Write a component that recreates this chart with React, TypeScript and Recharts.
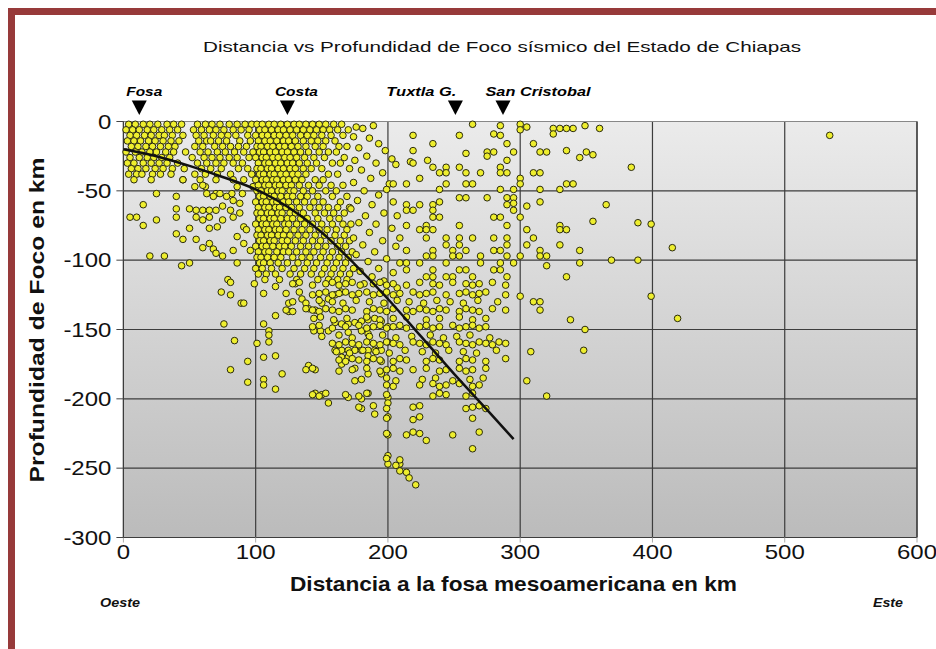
import React from 'react';
import {
  ScatterChart, Scatter, XAxis, YAxis, CartesianGrid, ReferenceDot, ReferenceLine,
} from 'recharts';

// ---------- DATA ----------
const xTicks = [0, 100, 200, 300, 400, 500, 600];
const yTicks = [0, -50, -100, -150, -200, -250, -300];

const markers = [
  { name: 'Fosa', km: 12 },
  { name: 'Costa', km: 124 },
  { name: 'Tuxtla G.', km: 251 },
  { name: 'San Cristobal', km: 287 },
];

// dense shallow cluster between the trench and the coast: [depth km, distances km]
const trenchRows: [number, number[]][] = [
  [-2, [4, 9, 15, 20, 26, 33, 38, 44, 56, 62, 67, 73, 80, 86, 92, 97]],
  [-6, [2, 7, 12, 18, 23, 29, 35, 41, 53, 59, 65, 70, 76, 83, 89, 95]],
  [-10, [5, 10, 16, 21, 27, 31, 37, 45, 55, 61, 68, 74, 79, 85, 94]],
  [-14, [3, 8, 13, 19, 24, 30, 36, 42, 57, 63, 66, 72, 78, 88, 96]],
  [-18, [6, 11, 17, 22, 28, 34, 39, 54, 60, 69, 75, 81, 87, 93]],
  [-22, [2, 9, 14, 20, 25, 32, 38, 47, 58, 64, 71, 77, 84, 91, 98]],
  [-26, [5, 12, 18, 23, 29, 35, 52, 61, 67, 73, 80, 86, 95]],
  [-30, [3, 8, 15, 21, 27, 33, 41, 56, 63, 70, 76, 83, 90]],
  [-34, [6, 11, 17, 24, 30, 37, 46, 59, 66, 74, 87, 94]],
  [-38, [4, 10, 14, 22, 28, 36, 54, 62, 71, 81, 97]],
  [-42, [8, 21, 45, 58, 70, 83, 91]],
  [-47, [54, 62, 86, 98]],
  [-52, [70, 82, 90]],
];

// dense band below the coast: [depth km, distances km]
const coastRows: [number, number[]][] = [
  [-2, [101, 105, 110, 114, 119, 124, 129, 133, 138, 143, 148, 153, 159, 165]],
  [-6, [103, 107, 112, 117, 121, 126, 131, 136, 141, 146, 151, 156, 162, 170]],
  [-10, [100, 105, 109, 114, 118, 123, 128, 134, 139, 144, 150, 157, 166]],
  [-14, [102, 107, 111, 116, 121, 125, 130, 136, 142, 147, 153, 160]],
  [-18, [101, 104, 109, 113, 118, 122, 127, 132, 138, 145, 151, 163, 169]],
  [-22, [103, 106, 111, 115, 120, 124, 129, 134, 140, 148, 155, 161]],
  [-26, [100, 105, 108, 113, 117, 122, 126, 131, 137, 144, 152, 167]],
  [-30, [102, 107, 110, 115, 119, 124, 128, 133, 139, 146, 158, 164]],
  [-34, [101, 104, 109, 112, 117, 121, 126, 130, 136, 142, 150, 171]],
  [-38, [103, 106, 111, 114, 119, 123, 128, 132, 138, 155, 162]],
  [-42, [100, 105, 108, 113, 116, 121, 125, 130, 135, 145, 151]],
  [-46, [102, 107, 110, 115, 118, 123, 127, 133, 140, 148, 157, 166]],
  [-50, [101, 104, 109, 112, 117, 120, 126, 129, 136, 143, 153, 161]],
  [-54, [103, 106, 111, 114, 119, 124, 128, 134, 139, 147, 158, 169]],
  [-58, [100, 105, 108, 113, 116, 121, 125, 131, 137, 144, 151, 164]],
  [-62, [102, 107, 110, 115, 118, 123, 127, 133, 141, 148, 155, 162, 171]],
  [-66, [101, 104, 109, 112, 117, 120, 126, 130, 136, 145, 152, 159, 167]],
  [-70, [103, 106, 111, 114, 119, 124, 128, 134, 139, 147, 156, 163]],
  [-74, [100, 105, 108, 113, 116, 122, 125, 131, 137, 143, 150, 158, 166, 172]],
  [-78, [102, 107, 110, 115, 118, 123, 129, 135, 141, 148, 154, 161, 169]],
  [-82, [101, 104, 109, 112, 117, 121, 126, 132, 138, 145, 152, 160, 167]],
  [-86, [103, 106, 111, 114, 120, 124, 130, 136, 143, 149, 157, 164, 171]],
  [-90, [100, 105, 108, 113, 118, 122, 127, 134, 140, 147, 153, 162, 168]],
  [-94, [102, 107, 110, 116, 121, 125, 131, 138, 144, 151, 158, 165, 173]],
  [-98, [101, 104, 109, 114, 119, 128, 135, 141, 149, 156, 163, 170]],
  [-102, [103, 106, 111, 117, 124, 132, 139, 146, 154, 161, 168]],
  [-106, [100, 105, 112, 120, 129, 137, 144, 152, 159, 166, 174]],
  [-110, [102, 108, 115, 126, 134, 142, 150, 157, 164, 171]],
  [-114, [107, 118, 131, 147, 155, 162, 169]],
];

// events between 170 and 210 km, shallower than ~120 km
const midScatter: [number, number][] = [
  [176, -4], [181, -5], [189, -3], [174, -11], [186, -12], [193, -16], [178, -19], [198, -21],
  [184, -25], [175, -28], [191, -30], [203, -27], [180, -35], [196, -37], [187, -41], [174, -44],
  [201, -45], [182, -50], [193, -53], [177, -57], [188, -60], [204, -58], [172, -63], [197, -66],
  [183, -68], [178, -73], [191, -74], [203, -77], [186, -80], [174, -84], [196, -86], [181, -89],
  [206, -90], [190, -94], [176, -96], [199, -99], [185, -101], [193, -106], [179, -108], [204, -109],
  [188, -112], [197, -115], [182, -117], [207, -120], [209, -102], [209, -84], [207, -68], [206, -31],
];

// scattered events west of ~210 km
const westScatter: [number, number][] = [
  [5, -69], [10, -69], [15, -75], [25, -71], [15, -60], [25, -52], [40, -54], [40, -63], [40, -69],
  [20, -97], [31, -97], [44, -104], [50, -102], [40, -81], [45, -85], [50, -77], [50, -63], [55, -85],
  [60, -91], [65, -88], [68, -92], [60, -71], [65, -77], [70, -95], [55, -64], [60, -64], [65, -64],
  [70, -64], [65, -69], [55, -69], [75, -71], [71, -76], [75, -61], [81, -64], [83, -69], [88, -66],
  [91, -76], [86, -83], [91, -88], [96, -93], [93, -78], [63, -52], [68, -54], [73, -52], [78, -54],
  [83, -57], [88, -59], [45, -42], [60, -46], [75, -97], [83, -93], [86, -102], [79, -114], [74, -123],
  [81, -125], [89, -131], [99, -117], [106, -124], [115, -119], [125, -131], [81, -116], [91, -131],
  [115, -140], [125, -137], [130, -117], [135, -128], [76, -146], [106, -146], [110, -151], [110, -154],
  [84, -158], [101, -160], [110, -159], [94, -173], [81, -179], [106, -170], [115, -169], [120, -182],
  [94, -188], [106, -186], [106, -190], [115, -193], [140, -176], [145, -179], [145, -196], [150, -197],
  [155, -203], [170, -199], [180, -200], [185, -196], [180, -207], [190, -211], [200, -199], [200, -203],
  [200, -213], [200, -226], [200, -241], [200, -247], [209, -247],
  [144, -151], [149, -151], [155, -151], [140, -135], [145, -136], [150, -131], [155, -128], [160, -125],
  [165, -123], [160, -145], [165, -146], [170, -146], [175, -145], [180, -144], [185, -143], [190, -142],
  [195, -144], [170, -152], [180, -151], [185, -153], [160, -165], [165, -165], [170, -165], [175, -165],
  [165, -170], [170, -170], [180, -165], [185, -165], [190, -165], [195, -165], [165, -175], [175, -178],
  [185, -169], [195, -173], [185, -182], [195, -182], [175, -187], [200, -148], [200, -159],
];

// events east of ~210 km, shallower than ~130 km
const eastShallow: [number, number][] = [
  [264, -2], [285, -3], [300, -2], [305, -4], [325, -5], [330, -5], [335, -5], [340, -5], [349, -3], [360, -5],
  [219, -10], [254, -10], [280, -9], [285, -10], [300, -6], [325, -9],
  [234, -16], [290, -16], [310, -16],
  [219, -21], [259, -23], [275, -22], [280, -22], [295, -22], [315, -22], [320, -22], [335, -21], [350, -22], [355, -24],
  [275, -25], [345, -26],
  [217, -29], [219, -30], [230, -28], [290, -28],
  [234, -33], [244, -33], [254, -33], [285, -33], [384, -33],
  [239, -37], [244, -37], [259, -37], [270, -37], [285, -37], [290, -37], [310, -37], [315, -37],
  [224, -41], [300, -41],
  [204, -45], [214, -45], [244, -45], [259, -45], [264, -45], [300, -45], [335, -45], [340, -45],
  [199, -49], [239, -49], [285, -49], [295, -49], [315, -49], [330, -49],
  [254, -55], [259, -55], [275, -55], [290, -55], [295, -55],
  [239, -58], [315, -58], [295, -59],
  [214, -60], [224, -60], [234, -60], [290, -60], [365, -60], [305, -61],
  [214, -64], [219, -64], [234, -64], [295, -64],
  [234, -69], [239, -69], [280, -69], [285, -69], [300, -69],
  [355, -72], [389, -73], [399, -74],
  [214, -75], [229, -75], [254, -75], [290, -75], [330, -75],
  [224, -78], [229, -78], [234, -78], [305, -78], [330, -78], [335, -78],
  [229, -84], [244, -84], [254, -84], [264, -84], [280, -84], [290, -84], [310, -84],
  [244, -89], [254, -89], [290, -89], [305, -89], [330, -89], [415, -91],
  [214, -93], [234, -93], [249, -93], [259, -93], [280, -93], [285, -93], [315, -93], [345, -93],
  [229, -97], [234, -97], [249, -97], [254, -97], [270, -97], [290, -97], [300, -97], [315, -97], [320, -97],
  [369, -100], [389, -100],
  [214, -102], [224, -102], [244, -102], [270, -102], [285, -102], [295, -102], [345, -102], [320, -104],
  [214, -107], [234, -107], [254, -107], [259, -107], [280, -107], [285, -107],
  [229, -112], [234, -112], [244, -112], [249, -112], [264, -112], [290, -112], [335, -112],
  [300, -126], [310, -130], [315, -130], [399, -126], [534, -10], [419, -142],
];

// intermediate / deep events (deeper than ~115 km)
const deepEvents: [number, number][] = [
  [128, -117], [133, -116], [143, -118], [153, -117], [158, -116], [163, -118], [168, -117], [173, -116],
  [179, -118], [189, -117], [194, -116], [199, -118], [204, -117], [214, -118], [224, -116], [234, -117],
  [239, -118], [249, -116], [259, -117], [264, -118], [269, -117], [279, -116], [289, -118],
  [123, -124], [133, -123], [143, -125], [148, -124], [153, -123], [158, -125], [163, -124], [168, -123],
  [173, -125], [178, -124], [184, -123], [189, -125], [194, -124], [199, -123], [204, -125], [209, -124],
  [219, -123], [224, -125], [229, -124], [234, -123], [244, -125], [254, -124], [259, -123], [264, -125],
  [269, -124], [274, -123], [289, -125],
  [128, -130], [138, -131], [148, -129], [158, -130], [166, -131], [176, -129], [186, -130], [197, -131],
  [207, -129], [216, -130], [227, -131], [237, -129], [247, -130], [257, -131], [268, -129], [283, -130],
  [123, -136], [128, -137], [138, -135], [143, -136], [148, -137], [153, -135], [158, -136], [163, -137],
  [168, -135], [173, -136], [184, -137], [189, -135], [194, -136], [199, -137], [204, -135], [214, -136],
  [219, -137], [224, -135], [229, -136], [234, -137], [239, -135], [244, -136], [254, -137], [259, -135],
  [264, -136], [269, -137], [279, -135], [289, -136],
  [144, -142], [149, -141], [159, -143], [169, -142], [184, -141], [194, -143], [204, -142], [214, -141],
  [229, -143], [239, -142], [254, -141], [264, -143], [274, -142],
  [143, -148], [148, -147], [158, -149], [168, -148], [178, -147], [184, -149], [189, -148], [194, -147],
  [199, -149], [204, -148], [209, -147], [214, -149], [224, -148], [229, -147], [234, -149], [239, -148],
  [249, -147], [254, -149], [259, -148], [264, -147], [269, -149], [274, -148],
  [150, -155], [163, -154], [173, -156], [186, -155], [196, -154], [206, -156], [218, -155], [232, -154],
  [242, -156], [252, -155], [262, -154], [277, -156],
  [158, -160], [163, -161], [168, -159], [173, -160], [178, -161], [184, -159], [189, -160], [194, -161],
  [199, -159], [204, -160], [209, -161], [219, -159], [224, -160], [229, -161], [234, -159], [239, -160],
  [244, -161], [254, -159], [259, -160], [264, -161], [269, -159], [274, -160], [279, -161], [284, -159],
  [289, -160],
  [161, -166], [171, -167], [181, -165], [191, -166], [201, -167], [213, -165], [226, -166], [236, -167],
  [246, -165], [257, -166], [267, -167], [282, -165],
  [163, -172], [168, -173], [173, -171], [178, -172], [184, -173], [189, -171], [194, -172], [204, -173],
  [209, -171], [214, -172], [229, -173], [234, -171], [239, -172], [254, -173], [259, -171], [264, -172],
  [274, -173], [289, -171],
  [138, -179], [143, -178], [163, -180], [173, -179], [184, -178], [194, -180], [199, -179], [204, -178],
  [209, -180], [219, -179], [229, -178], [239, -180], [244, -179], [254, -178], [259, -180], [264, -179],
  [274, -178],
  [180, -186], [199, -185], [206, -187], [226, -186], [236, -185], [249, -187], [262, -186], [272, -185],
  [199, -190], [204, -191], [224, -190], [234, -189], [239, -191], [244, -190], [254, -189], [264, -191],
  [269, -190],
  [143, -197], [148, -198], [153, -196], [168, -197], [178, -198], [184, -196], [199, -197], [234, -198],
  [239, -196], [244, -197], [259, -198], [264, -196],
  [178, -206], [189, -205], [199, -207], [219, -206], [224, -205], [259, -207], [264, -206], [269, -205],
  [274, -207],
  [199, -214], [219, -215], [224, -213], [264, -214],
  [199, -225], [214, -226], [219, -224], [224, -225], [249, -226], [269, -224],
  [229, -230], [264, -236], [199, -243], [209, -244], [209, -252], [214, -253], [216, -257], [221, -262],
  [206, -248],
  [305, -187], [320, -198], [338, -143], [348, -165], [349, -150], [315, -136], [308, -166],
];

// fitted trend of the subducting slab
const trendCurve: [number, number][] = [
  [0, -20], [25, -25], [50, -32], [75, -40], [100, -49], [125, -62], [150, -80], [175, -103],
  [200, -128], [225, -155], [250, -182], [275, -208], [295, -229],
];

// ---------- BUILD ----------
const flattenRows = (rows: [number, number[]][]) =>
  rows.flatMap(([y, xs]) => xs.map((x) => ({ x, y })));
const toPoints = (arr: [number, number][]) => arr.map(([x, y]) => ({ x, y }));

const quakes = [
  ...flattenRows(trenchRows),
  ...flattenRows(coastRows),
  ...toPoints(midScatter),
  ...toPoints(westScatter),
  ...toPoints(eastShallow),
  ...toPoints(deepEvents),
];
const curve = toPoints(trendCurve);

const FONT = '"Liberation Sans", Arial, sans-serif';

const labelStyle: Record<string, { anchor: 'start' | 'end'; dx: number; len: number }> = {
  'Fosa': { anchor: 'start', dx: -13, len: 36 },
  'Costa': { anchor: 'start', dx: -12.5, len: 43 },
  'Tuxtla G.': { anchor: 'end', dx: 1, len: 70 },
  'San Cristobal': { anchor: 'start', dx: -17.5, len: 105 },
};

const QuakeDot = (props: any) => {
  const { cx, cy } = props;
  if (cx == null || cy == null) return <g />;
  return <circle cx={cx} cy={cy} r={3.3} fill="#eeee2e" stroke="#2a2a10" strokeWidth={1} />;
};

const XTick = (props: any) => {
  const { x, y, payload } = props;
  return (
    <g transform={`translate(${x},${y})`}>
      <text transform="scale(1.2,1)" textAnchor="middle" dy="0.71em" fontSize={20} fontFamily={FONT} fill="#111">
        {payload.value}
      </text>
    </g>
  );
};

const YTick = (props: any) => {
  const { x, y, payload } = props;
  return (
    <g transform={`translate(${x},${y})`}>
      <text transform="scale(1.2,1)" textAnchor="end" dy="0.36em" fontSize={20} fontFamily={FONT} fill="#111">
        {payload.value}
      </text>
    </g>
  );
};

const MarkerGlyph = ({ cx, cy, name }: { cx: number; cy: number; name: string }) => {
  const s = labelStyle[name];
  return (
    <g>
      <polygon
        points={`${cx - 7.5},${cy - 21} ${cx + 7.5},${cy - 21} ${cx},${cy - 6.5}`}
        fill="#000"
      />
      <text
        x={cx + s.dx}
        y={cy - 26}
        textAnchor={s.anchor}
        fontFamily={FONT}
        fontWeight="bold"
        fontStyle="italic"
        fontSize={13}
        textLength={s.len}
        lengthAdjust="spacingAndGlyphs"
        fill="#000"
      >
        {name}
      </text>
    </g>
  );
};

export default function App() {
  return (
    <div style={{ position: 'fixed', left: 8, top: 8, width: 928, height: 641, background: '#fff', overflow: 'hidden' }}>
      <div
        style={{
          position: 'absolute', left: 0, top: 0, width: 928, height: 641, boxSizing: 'border-box',
          borderTop: '7px solid #973a3a', borderLeft: '7px solid #973a3a',
        }}
      />
      <div style={{ position: 'absolute', left: 0, top: 0 }}>
        <ScatterChart width={928} height={641} margin={{ top: 113.5, right: 19, bottom: 81.5, left: 55.4 }}>
          <defs>
            <linearGradient id="plotBg" x1="0" y1="0" x2="0" y2="1">
              <stop offset="0" stopColor="#ebebeb" />
              <stop offset="1" stopColor="#bbbbbb" />
            </linearGradient>
          </defs>
          <CartesianGrid fill="url(#plotBg)" fillOpacity={1} stroke="#3d3d3d" strokeWidth={1.2} />
          <XAxis
            type="number" dataKey="x" domain={[0, 600]} ticks={xTicks} height={30}
            axisLine={{ stroke: '#3d3d3d' }} tickLine={{ stroke: '#aaa' }} tickSize={5} tickMargin={2}
            tick={<XTick />} interval={0}
          />
          <YAxis
            type="number" dataKey="y" domain={[-300, 0]} ticks={yTicks} width={60}
            axisLine={{ stroke: '#3d3d3d' }} tickLine={{ stroke: '#444' }} tickSize={7} tickMargin={5}
            tick={<YTick />} interval={0}
          />
          <ReferenceLine y={0} stroke="#888" strokeWidth={1.2} />
          <ReferenceLine x={600} stroke="#3d3d3d" strokeWidth={1.2} />
          <Scatter data={quakes} shape={QuakeDot} isAnimationActive={false} />
          <Scatter
            data={curve}
            line={{ stroke: '#111', strokeWidth: 2.5 }}
            lineJointType="monotoneX"
            shape={() => <g />}
            isAnimationActive={false}
          />
          {markers.map((m) => (
            <ReferenceDot
              key={m.name}
              x={m.km}
              y={0}
              r={0}
              ifOverflow="visible"
              shape={(p: any) => <MarkerGlyph cx={p.cx} cy={p.cy} name={m.name} />}
            />
          ))}
        </ScatterChart>
      </div>
      <svg
        width={928} height={641}
        style={{ position: 'absolute', left: 0, top: 0, pointerEvents: 'none' }}
      >
        <text
          x={494} y={38} textAnchor="middle" dominantBaseline="central"
          fontFamily={FONT} fontSize={15} fill="#111" textLength={598} lengthAdjust="spacingAndGlyphs"
        >
          Distancia vs Profundidad de Foco sísmico del Estado de Chiapas
        </text>
        <text
          x={505.5} y={575} textAnchor="middle" dominantBaseline="central"
          fontFamily={FONT} fontSize={21} fontWeight="bold" fill="#111" textLength={447} lengthAdjust="spacingAndGlyphs"
        >
          Distancia a la fosa mesoamericana en km
        </text>
        <text
          x={0} y={0} transform="translate(28,312) rotate(-90)" textAnchor="middle" dominantBaseline="central"
          fontFamily={FONT} fontSize={21} fontWeight="bold" fill="#111" textLength={325} lengthAdjust="spacingAndGlyphs"
        >
          Profundidad de Foco en km
        </text>
        <text
          x={92} y={595} dominantBaseline="central" fontFamily={FONT} fontSize={12}
          fontWeight="bold" fontStyle="italic" fill="#111" textLength={40} lengthAdjust="spacingAndGlyphs"
        >
          Oeste
        </text>
        <text
          x={865} y={595} dominantBaseline="central" fontFamily={FONT} fontSize={12}
          fontWeight="bold" fontStyle="italic" fill="#111" textLength={30} lengthAdjust="spacingAndGlyphs"
        >
          Este
        </text>
      </svg>
    </div>
  );
}
